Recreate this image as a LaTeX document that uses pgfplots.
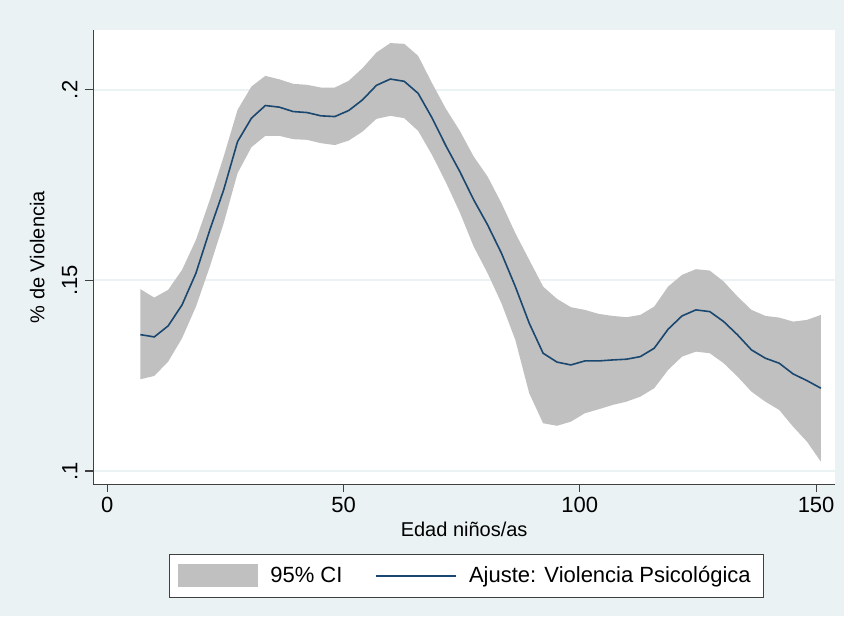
\documentclass[border=0pt]{standalone}
\usepackage{fontspec}
\setmainfont{Liberation Sans}
\usepackage{pgfplots}
\pgfplotsset{compat=1.18}
\usepackage{pgfplotstable}
\usepgfplotslibrary{fillbetween}
\definecolor{bgc}{HTML}{EAF2F3}
\definecolor{cigray}{HTML}{C0C0C0}
\definecolor{fitc}{HTML}{1A476F}
\definecolor{axc}{HTML}{404040}
\pagecolor{bgc}

\pgfplotstableread{
x lo fit hi
7.00 0.12407 0.13577 0.14769
9.94 0.12493 0.13517 0.14549
12.88 0.12869 0.13806 0.14751
15.82 0.13483 0.14357 0.15276
18.76 0.14312 0.15189 0.16063
21.70 0.15362 0.16325 0.17113
24.63 0.16501 0.17375 0.18249
27.57 0.17814 0.18643 0.19475
30.51 0.18496 0.19257 0.20087
33.45 0.18793 0.19588 0.20367
36.39 0.18793 0.19546 0.20276
39.33 0.18706 0.19430 0.20157
42.27 0.18688 0.19404 0.20131
45.21 0.18601 0.19318 0.20060
48.15 0.18551 0.19299 0.20060
51.09 0.18669 0.19457 0.20236
54.02 0.18906 0.19738 0.20570
56.96 0.19239 0.20118 0.20979
59.90 0.19318 0.20283 0.21226
62.84 0.19257 0.20223 0.21207
65.78 0.18924 0.19908 0.20892
68.72 0.18294 0.19265 0.20176
71.66 0.17572 0.18530 0.19501
74.60 0.16785 0.17856 0.18924
77.54 0.15887 0.17113 0.18249
80.48 0.15189 0.16457 0.17724
83.41 0.14402 0.15714 0.17026
86.35 0.13438 0.14837 0.16239
89.29 0.12039 0.13877 0.15538
92.23 0.11252 0.13089 0.14837
95.17 0.11186 0.12856 0.14514
98.11 0.11294 0.12782 0.14297
101.05 0.11514 0.12887 0.14226
103.99 0.11619 0.12887 0.14121
106.93 0.11732 0.12913 0.14068
109.87 0.11819 0.12932 0.14034
112.80 0.11950 0.13000 0.14094
115.74 0.12171 0.13220 0.14312
118.68 0.12651 0.13719 0.14837
121.62 0.13000 0.14068 0.15144
124.56 0.13131 0.14226 0.15294
127.50 0.13089 0.14181 0.15257
130.44 0.12827 0.13919 0.14969
133.38 0.12475 0.13570 0.14575
136.32 0.12081 0.13176 0.14226
139.26 0.11819 0.12958 0.14068
142.19 0.11601 0.12827 0.14024
145.13 0.11163 0.12546 0.13919
148.07 0.10769 0.12370 0.13963
151.01 0.10244 0.12171 0.14094
}\data

\begin{document}%
\begin{tikzpicture}
\begin{axis}[
  at={(46.65pt,65.85pt)}, anchor=south west,
  width=370.85pt, height=227.15pt, scale only axis,
  xmin=-2.96, xmax=154.0, ymin=0.0965, ymax=0.2157,
  axis lines=left,
  axis line style={axc, line width=0.6pt, -},
  axis background/.style={fill=white},
  xtick={0,50,100,150}, xticklabels={0,50,100,150},
  ytick={0.1,0.15,0.2}, yticklabels={.1,.15,.2},
  ymajorgrids, grid style={bgc, line width=1pt},
  tick align=outside, major tick length=4pt,
  tick style={axc, line width=0.6pt},
  /pgf/number format/assume math mode=true,
  tick label style={font=\fontsize{11}{13}\selectfont},
  label style={font=\fontsize{11}{13}\selectfont},
  xticklabel style={anchor=north, inner sep=0pt, inner ysep=2pt},
  yticklabel style={rotate=90, anchor=south, inner sep=0pt, inner ysep=3.8pt},
  every axis x label/.style={at={([yshift=-25.85pt]axis description cs:0.5,0)}, anchor=base},
  every axis y label/.style={at={([xshift=-28pt]axis description cs:0,0.5)}, rotate=90, anchor=center},
  xlabel={Edad niños/as}, ylabel={\% de Violencia},
  legend columns=2,
  legend style={at={(0.5032,-0.2018)}, anchor=center, draw=axc, line width=0.6pt, fill=white,
    font=\fontsize{11}{13}\selectfont, inner xsep=4.5pt, inner ysep=4pt,
    /tikz/every odd column/.append style={column sep=4pt},
    /tikz/every even column/.append style={column sep=14.5pt}},
  legend cell align=left,
]
\addplot[draw=none, name path=hi, forget plot] table[x=x,y=hi]{\data};
\addplot[draw=none, name path=lo, forget plot] table[x=x,y=lo]{\data};
\addplot[fill=cigray, draw=none,
  legend image code/.code={\fill[cigray] (0pt,-5.75pt) rectangle (40pt,5.75pt);}]
  fill between[of=hi and lo];
\addlegendentry{95\% CI}
\addplot[fitc, line width=0.8pt,
  legend image code/.code={\draw[fitc, line width=0.8pt] (0pt,0pt) -- (40pt,0pt);}]
  table[x=x,y=fit]{\data};
\addlegendentry{Ajuste: Violencia Psicológica\hspace{14.5pt}}
\end{axis}
\pgfresetboundingbox
\path[use as bounding box] (0,0) rectangle (422pt,308pt);
\end{tikzpicture}%
\end{document}
